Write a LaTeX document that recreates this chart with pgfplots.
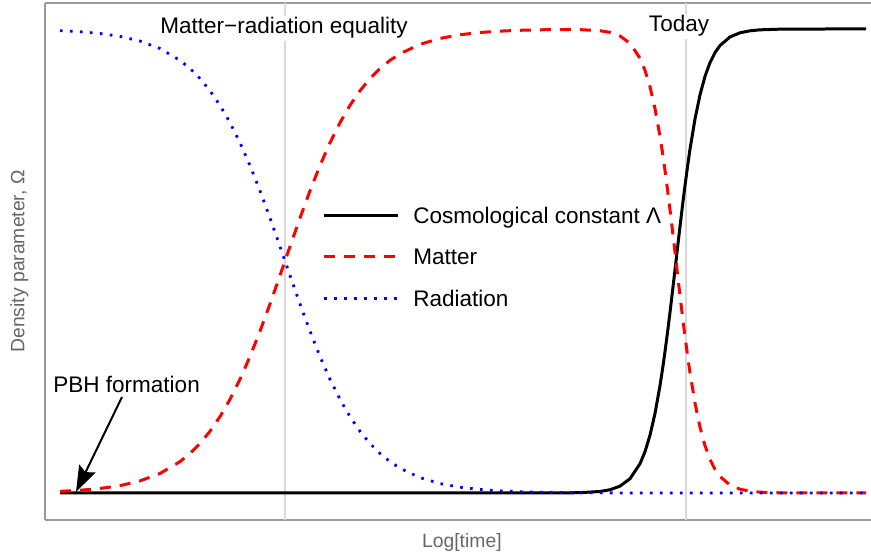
\documentclass[border=0pt]{standalone}
\usepackage{pgfplots}
\pgfplotsset{compat=1.18}
\usepackage{pgfplotstable}
\usepackage{fontspec}
\setmainfont{Liberation Sans}
\usetikzlibrary{arrows.meta}

\definecolor{framegray}{gray}{0.6}
\definecolor{gridgray}{gray}{0.85}
\definecolor{labelgray}{gray}{0.4}

\pgfplotstableread{
x y
60 0.0000
500 0.0000
540 0.0000
560 0.0002
580 0.0007
600 0.0033
610 0.0070
620 0.0148
630 0.0308
640 0.0630
645 0.0891
650 0.1246
655 0.1715
660 0.2315
663 0.2739
665 0.3047
668 0.3543
670 0.3894
673 0.4440
676 0.5000
679 0.5560
680 0.5744
683 0.6283
685 0.6626
688 0.7110
690 0.7408
695 0.8061
700 0.8581
705 0.8980
710 0.9276
715 0.9491
720 0.9644
730 0.9829
740 0.9918
750 0.9961
760 0.9982
780 0.9996
800 0.9999
830 1.0000
866 1.0000
}\lambdatab

\pgfplotstableread{
x y
60 0.0036
80 0.0059
100 0.0097
120 0.0159
140 0.0260
160 0.0421
180 0.0676
190 0.0851
200 0.1067
210 0.1330
220 0.1645
230 0.2018
240 0.2451
250 0.2942
260 0.3487
270 0.4073
280 0.4688
285 0.5000
290 0.5312
300 0.5927
310 0.6513
320 0.7058
330 0.7549
340 0.7982
350 0.8355
360 0.8670
370 0.8933
380 0.9149
390 0.9324
400 0.9466
420 0.9669
440 0.9797
460 0.9876
480 0.9924
500 0.9954
520 0.9972
540 0.9983
560 0.9988
580 0.9986
600 0.9963
610 0.9927
620 0.9850
630 0.9692
640 0.9370
645 0.9109
650 0.8754
655 0.8285
660 0.7685
663 0.7261
665 0.6953
668 0.6457
670 0.6106
673 0.5560
676 0.5000
679 0.4440
680 0.4256
683 0.3717
685 0.3374
688 0.2890
690 0.2592
695 0.1939
700 0.1419
705 0.1020
710 0.0724
715 0.0509
720 0.0356
730 0.0171
740 0.0082
750 0.0039
760 0.0018
780 0.0004
800 0.0001
830 0.0000
866 0.0000
}\mattertab

\pgfplotstableread{
x y
60 0.9964
80 0.9941
100 0.9903
120 0.9841
140 0.9740
160 0.9579
180 0.9324
190 0.9149
200 0.8933
210 0.8670
220 0.8355
230 0.7982
240 0.7549
250 0.7058
260 0.6513
270 0.5927
280 0.5312
285 0.5000
290 0.4688
300 0.4073
310 0.3487
320 0.2942
330 0.2451
340 0.2018
350 0.1645
360 0.1330
370 0.1067
380 0.0851
390 0.0676
400 0.0534
420 0.0331
440 0.0203
460 0.0124
480 0.0076
500 0.0046
520 0.0028
540 0.0017
580 0.0006
620 0.0002
700 0.0000
866 0.0000
}\radtab

\begin{document}
\begin{tikzpicture}
\begin{axis}[
  width=413bp, height=258.5bp, scale only axis,
  xmin=45, xmax=871, ymin=-0.05819, ymax=1.05603,
  axis x line*=box, axis y line*=left,
  axis line style={-, framegray, line width=0.8bp},
  xtick=\empty, ytick=\empty,
  extra x ticks={285,686}, extra x tick labels={},
  extra x tick style={grid=major, major tick length=0pt},
  major grid style={gridgray, line width=0.6bp},
  xlabel={Log[time]}, ylabel={Density parameter, Ω},
  every axis x label/.style={at={(axis description cs:0.5047,-0.043)}, anchor=center, font=\fontsize{9.7}{11}\selectfont, text=labelgray},
  every axis y label/.style={at={(axis description cs:-0.0309,0.5)}, rotate=90, anchor=center, font=\fontsize{9.7}{11}\selectfont, text=labelgray},
  legend style={at={(axis cs:322,0.62069)}, anchor=north west, draw=none, fill=none, inner sep=0pt, row sep=10.75bp, column sep=7bp, font=\fontsize{11.3}{13}\selectfont, nodes={inner sep=0pt, text height=9bp, text depth=1bp}},
  legend cell align=left,
  legend image code/.code={\draw[#1] (0bp,0bp) -- (37bp,0bp);},
  clip=false,
]
\addplot[black, line width=1.5bp] table[x=x,y=y] {\lambdatab};
\addlegendentry{Cosmological constant Λ}
\addplot[red, line width=1.5bp, dash pattern=on 5.5bp off 4.5bp] table[x=x,y=y] {\mattertab};
\addlegendentry{Matter}
\addplot[blue, line width=1.4bp, dash pattern=on 1.3bp off 3.7bp] table[x=x,y=y] {\radtab};
\addlegendentry{Radiation}

\node[fill=white, inner sep=1bp, anchor=base, font=\fontsize{11.3}{13}\selectfont] at (axis cs:284,0.98922) {Matter−radiation equality};
\node[fill=white, inner sep=1bp, anchor=base, font=\fontsize{11.3}{13}\selectfont] at (axis cs:679,0.99353) {Today};
\node[inner sep=0pt, anchor=base west, font=\fontsize{11.3}{13}\selectfont] at (axis cs:53,0.21552) {PBH formation};
\draw[line width=1bp, -{Stealth[length=13bp,width=9bp,inset=2bp]}] (axis cs:122,0.2069) -- (axis cs:76,0.0022);
\end{axis}
\pgfresetboundingbox
\path[use as bounding box] ([xshift=-22.5bp,yshift=-17bp]current axis.south west) rectangle ([yshift=1.5bp]current axis.north east);
\end{tikzpicture}
\end{document}
